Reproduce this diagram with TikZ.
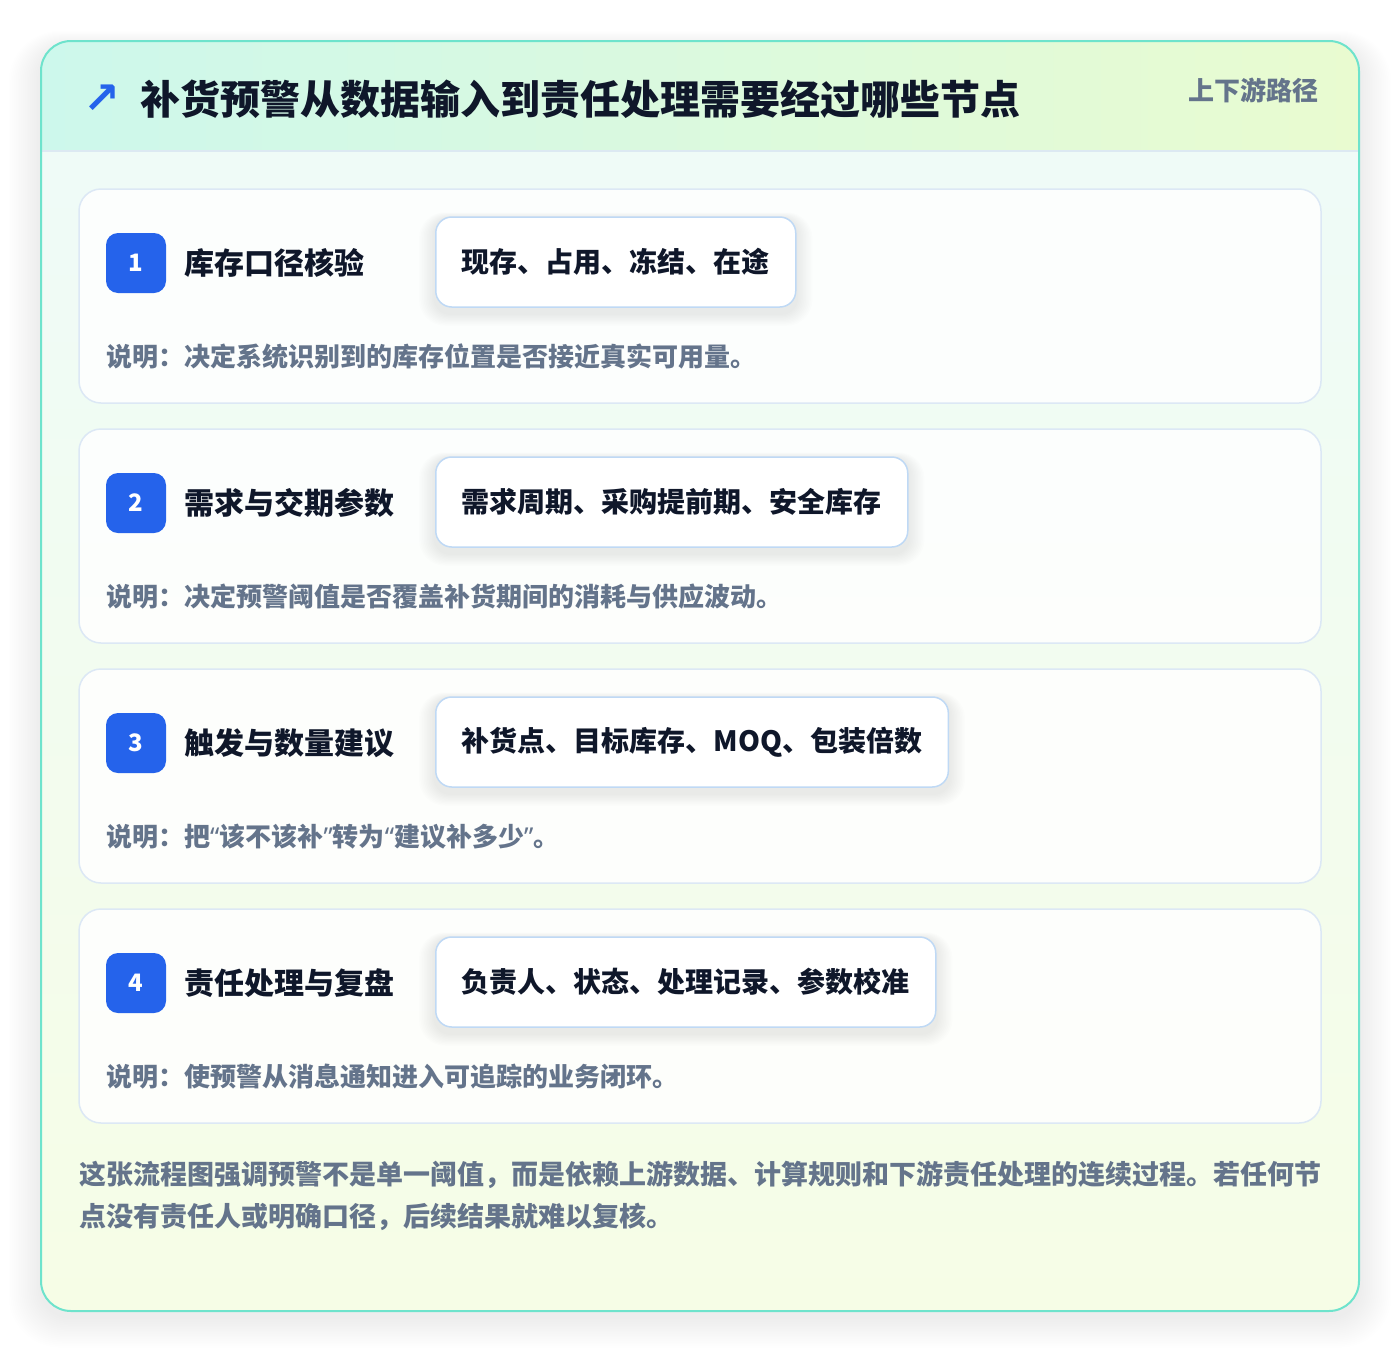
\documentclass[tikz,border=0pt]{standalone}
\usepackage{fontspec}
\setmainfont{Noto Sans CJK SC}
\newfontfamily\symfont{DejaVu Sans}
\newfontfamily\latinfont{Noto Sans}
\definecolor{teal}{HTML}{6EE3CC}
\definecolor{hdrL}{HTML}{CDF8EC}
\definecolor{hdrR}{HTML}{E9FBD0}
\definecolor{bodyT}{HTML}{EEFBF9}
\definecolor{bodyB}{HTML}{F6FDE6}
\definecolor{divider}{HTML}{DCE9F2}
\definecolor{cardline}{HTML}{DCE8F5}
\definecolor{tagline}{HTML}{BFD9F5}
\definecolor{badge}{HTML}{2563EB}
\definecolor{ink}{HTML}{0F172A}
\definecolor{muted}{HTML}{64748B}
\pgfdeclarelayer{bg}
\pgfdeclarelayer{cards}
\pgfdeclarelayer{shadowlayer}
\pgfsetlayers{bg,cards,shadowlayer,main}
\newcommand{\myopenq}{{\latinfont “}}
\newcommand{\mycloseq}{{\latinfont ”}}
\tikzset{
  card/.style={draw=cardline, line width=1.5pt, fill=white, fill opacity=0.85, text opacity=1, rounded corners=22pt, minimum width=1242pt, minimum height=214pt, inner sep=0pt},
  badgebox/.style={fill=badge, rounded corners=12pt, minimum width=60pt, minimum height=60pt, inner sep=0pt, text=white, font=\bfseries\fontsize{24}{26}\selectfont},
  steptitle/.style={anchor=west, inner sep=0pt, text=ink, font=\bfseries\fontsize{30}{34}\selectfont},
  tagbox/.style={anchor=west, draw=tagline, line width=1.5pt, fill=white, rounded corners=16pt, minimum height=90pt, inner xsep=26pt, inner ysep=0pt, text=ink, font=\bfseries\fontsize{28}{32}\selectfont},
  desc/.style={anchor=west, inner sep=0pt, text=muted, font=\bfseries\fontsize{26}{30}\selectfont},
  foot/.style={anchor=west, inner sep=0pt, text=muted, font=\bfseries\fontsize{27}{30}\selectfont}
}
\begin{document}
\begin{tikzpicture}[x=1pt,y=-1pt]
\useasboundingbox (0,0) rectangle (1400,1352);
\begin{pgfonlayer}{bg}
% outer shadow
\foreach \i in {1,...,18}{
  \fill[black, opacity=0.0045, rounded corners=30pt+\i*1.2pt] (41-\i*1.8,41-\i*0.9+6) rectangle (1359+\i*1.8,1311+\i*1.7+6);
}
% body
\shade[rounded corners=30pt, top color=bodyT, bottom color=bodyB] (41,41) rectangle (1359,1311);
\begin{scope}
  \clip[rounded corners=30pt] (41,41) rectangle (1359,1311);
  \shade[left color=hdrL, right color=hdrR] (41,41) rectangle (1359,151);
  \draw[divider, line width=1.5pt] (41,151) -- (1359,151);
\end{scope}
\end{pgfonlayer}
\node[draw=teal, line width=2pt, rounded corners=30pt, minimum width=1318pt, minimum height=1270pt, inner sep=0pt] (frame) at (700,676) {};
% header
\node[inner sep=0pt, text=badge, font=\symfont\bfseries\fontsize{44}{46}\selectfont] (arrow) at (102,99) {↗};
\node[anchor=west, inner sep=0pt, text=ink, font=\bfseries\fontsize{40}{44}\selectfont] (title) at (140,99) {补货预警从数据输入到责任处理需要经过哪些节点};
\node[anchor=east, inner sep=0pt, text=muted, font=\bfseries\fontsize{26}{28}\selectfont] (path) at (1319,90) {上下游路径};
% cards
\foreach \n/\cy/\ttl/\tag/\ds in {
  1/296/库存口径核验/现存、占用、冻结、在途/说明：决定系统识别到的库存位置是否接近真实可用量。,
  2/536/需求与交期参数/需求周期、采购提前期、安全库存/说明：决定预警阈值是否覆盖补货期间的消耗与供应波动。,
  3/776/触发与数量建议/补货点、目标库存、MOQ、包装倍数/说明：把\myopenq 该不该补\mycloseq 转为\myopenq 建议补多少\mycloseq 。,
  4/1016/责任处理与复盘/负责人、状态、处理记录、参数校准/说明：使预警从消息通知进入可追踪的业务闭环。}{
  \begin{pgfonlayer}{cards}
  \node[card] (card\n) at (700,\cy) {};
  \end{pgfonlayer}
  \node[badgebox] (badge\n) at (136,\cy-33) {\n};
  \node[steptitle] (title\n) at (184,\cy-33) {\ttl};
  \node[tagbox] (tag\n) at (435,\cy-34) {\tag};
  \node[desc] (desc\n) at (106,\cy+61) {\ds};
  \begin{pgfonlayer}{shadowlayer}
  \foreach \k in {1,...,10}{
    \fill[black, opacity=0.007, rounded corners=16pt+\k*1pt] ([xshift=-\k*1.6pt, yshift=-\k*1.2pt-6pt]tag\n.south west) rectangle ([xshift=\k*1.6pt, yshift=\k*0.6pt-2pt]tag\n.north east);
  }
  \end{pgfonlayer}
}
% footer
\node[foot] (foot1) at (79,1175) {这张流程图强调预警不是单一阈值，而是依赖上游数据、计算规则和下游责任处理的连续过程。若任何节};
\node[foot] (foot2) at (79,1217) {点没有责任人或明确口径，后续结果就难以复核。};
\end{tikzpicture}
\end{document}
